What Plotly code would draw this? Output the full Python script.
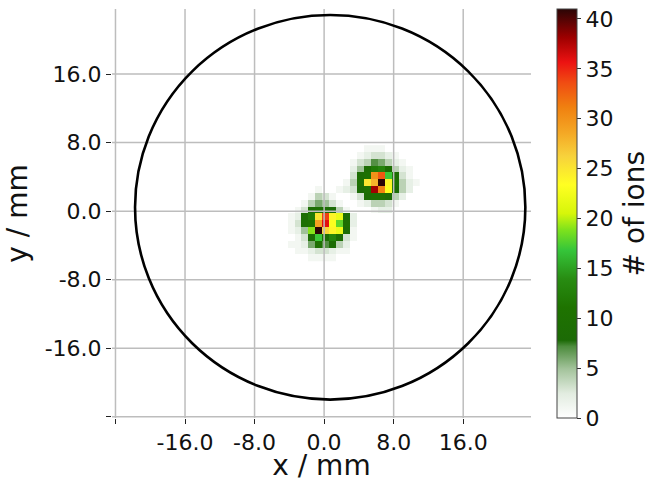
import plotly.graph_objects as go

# ---------------- data ----------------
# bin centres (mm) of the 2D ion-count histogram (only the region containing ions)
x_centers = [-4.6, -3.8, -3.0, -2.2, -1.4, -0.6, 0.2, 1.0, 1.8, 2.6,
             3.4, 4.2, 5.0, 5.8, 6.6, 7.4, 8.2, 9.0, 9.8, 10.6]
y_centers = [7.3, 6.5, 5.7, 4.9, 4.1, 3.3, 2.5, 1.7, 0.9, 0.1,
             -0.7, -1.5, -2.3, -3.1, -3.9, -4.7, -5.5]

# counts (# of ions), rows follow y_centers (top to bottom), columns follow x_centers
counts = [
    [0, 0, 0, 0, 0, 0, 0, 0, 0, 0,   0, 0, 1, 1, 1, 0, 0, 0, 0, 0],
    [0, 0, 0, 0, 0, 0, 0, 0, 0, 0,   0, 1, 2, 3, 3, 2, 1, 0, 0, 0],
    [0, 0, 0, 0, 0, 0, 0, 0, 0, 0,   1, 3, 4, 7, 6, 4, 2, 1, 0, 0],
    [0, 0, 0, 0, 0, 0, 0, 0, 0, 0,   2, 5, 9, 12, 13, 9, 4, 2, 1, 0],
    [0, 0, 0, 0, 0, 0, 0, 0, 0, 0,   3, 9, 10, 30, 33, 17, 9, 3, 1, 0],
    [0, 0, 0, 0, 0, 0, 0, 0, 0, 1,   4, 10, 25, 28, 41, 24, 10, 4, 2, 1],
    [0, 0, 0, 0, 0, 1, 0, 0, 1, 2,   3, 8, 10, 38, 31, 23, 8, 4, 2, 0],
    [0, 0, 0, 0, 1, 4, 3, 1, 0, 0,   1, 3, 9, 10, 10, 8, 4, 2, 0, 0],
    [0, 0, 0, 1, 4, 6, 5, 3, 1, 0,   0, 1, 2, 4, 4, 3, 1, 0, 0, 0],
    [0, 0, 1, 3, 9, 10, 9, 8, 4, 1,  0, 0, 0, 1, 2, 2, 0, 0, 0, 0],
    [0, 1, 2, 9, 12, 25, 34, 24, 22, 9, 2, 0, 0, 0, 0, 0, 0, 0, 0, 0],
    [0, 1, 3, 10, 11, 29, 36, 23, 18, 10, 2, 0, 0, 0, 0, 0, 0, 0, 0, 0],
    [0, 1, 2, 5, 19, 41, 26, 24, 22, 9, 1, 0, 0, 0, 0, 0, 0, 0, 0, 0],
    [0, 0, 1, 3, 9, 17, 9, 13, 9, 3,  1, 0, 0, 0, 0, 0, 0, 0, 0, 0],
    [0, 1, 1, 2, 6, 10, 7, 9, 4, 2,   0, 0, 0, 0, 0, 0, 0, 0, 0, 0],
    [0, 0, 1, 1, 2, 3, 3, 2, 1, 1,   0, 0, 0, 0, 0, 0, 0, 0, 0, 0],
    [0, 0, 0, 0, 1, 1, 1, 1, 0, 0,   0, 0, 0, 0, 0, 0, 0, 0, 0, 0],
]

# detector outline (mm)
circle_cx = 0.7
circle_cy = 0.45
circle_r = 22.45

# axis ticks
x_tickvals = [-24, -16, -8, 0, 8, 16]
x_ticktext = ["", "-16.0", "-8.0", "0.0", "8.0", "16.0"]
y_tickvals = [-24, -16, -8, 0, 8, 16]
y_ticktext = ["", "-16.0", "-8.0", "0.0", "8.0", "16.0"]
cbar_ticks = [0, 5, 10, 15, 20, 25, 30, 35, 40]
z_max = 41
cbar_title = "# of ions"

# ---------------- figure ----------------
z = [[(v if v > 0 else None) for v in row] for row in counts]

colorscale = [
    [0.00, "#ffffff"],
    [0.06, "#e2ece0"],
    [0.12, "#a3c39b"],
    [0.175, "#4d8c3d"],
    [0.19, "#1c6a06"],
    [0.27, "#1e7300"],
    [0.34, "#288c12"],
    [0.41, "#35c53a"],
    [0.46, "#7ee21c"],
    [0.50, "#d6f60a"],
    [0.57, "#ffff22"],
    [0.64, "#f7d23c"],
    [0.70, "#f4a624"],
    [0.76, "#f08010"],
    [0.82, "#f04c12"],
    [0.87, "#ec1212"],
    [0.93, "#9e0000"],
    [1.00, "#2a0505"],
]

FONT = "DejaVu Sans"

fig = go.Figure()
fig.add_trace(go.Heatmap(
    x=x_centers[:], y=y_centers[::-1], z=z[::-1],
    zmin=0, zmax=z_max, colorscale=colorscale, zsmooth=False,
    hoverongaps=False,
    colorbar=dict(
        thickness=20, len=1.0, lenmode="fraction",
        x=1.063, xanchor="left", xpad=0,
        y=0.5, yanchor="middle", ypad=0,
        outlinewidth=1, outlinecolor="#444444",
        tickmode="array", tickvals=cbar_ticks,
        ticks="outside", ticklen=4, tickwidth=1.2, tickcolor="#333333",
        tickfont=dict(family=FONT, size=22, color="#111111"),
    ),
))

shapes = []
for v in x_tickvals:
    shapes.append(dict(type="line", xref="x", yref="paper", x0=v, x1=v, y0=0, y1=1,
                       line=dict(color="#bdbdbd", width=1.5), layer="above"))
for v in y_tickvals:
    shapes.append(dict(type="line", xref="paper", yref="y", x0=0, x1=1, y0=v, y1=v,
                       line=dict(color="#bdbdbd", width=1.5), layer="above"))
shapes.append(dict(type="circle", xref="x", yref="y",
                   x0=circle_cx - circle_r, x1=circle_cx + circle_r,
                   y0=circle_cy - circle_r, y1=circle_cy + circle_r,
                   line=dict(color="#000000", width=2.6), layer="above"))

axis_common = dict(
    tickmode="array", ticks="outside", ticklen=5, tickwidth=1.3, tickcolor="#222222",
    showgrid=False, zeroline=False, showline=False, automargin=False,
    tickfont=dict(family=FONT, size=22, color="#111111"),
)

fig.update_layout(
    width=655, height=482, autosize=False,
    margin=dict(l=112, r=124, t=9, b=64),
    paper_bgcolor="white", plot_bgcolor="white",
    shapes=shapes,
    xaxis=dict(range=[-24.4, 23.8], tickvals=x_tickvals, ticktext=x_ticktext,
               title=dict(text="x / mm", font=dict(family=FONT, size=28, color="#111111"),
                          standoff=7),
               **axis_common),
    yaxis=dict(range=[-24.15, 23.6], tickvals=y_tickvals, ticktext=y_ticktext,
               title=dict(text="y / mm", font=dict(family=FONT, size=28, color="#111111"),
                          standoff=8),
               **axis_common),
    annotations=[dict(text=cbar_title, textangle=-90, xref="paper", yref="paper",
                      x=1.248, y=0.5, xanchor="center", yanchor="middle",
                      showarrow=False,
                      font=dict(family=FONT, size=28, color="#111111"))],
)

fig.write_html("out.html")
